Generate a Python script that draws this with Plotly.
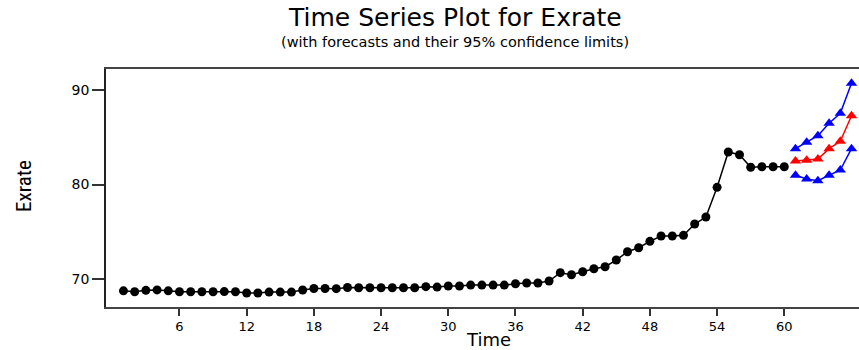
import plotly.graph_objects as go

# Observed series (Time 1..60)
time_obs = list(range(1, 61))
exrate = [68.75, 68.65, 68.80, 68.85, 68.75, 68.65, 68.65, 68.65, 68.65, 68.67,
          68.65, 68.52, 68.52, 68.62, 68.62, 68.62, 68.84, 69.00, 69.00, 68.98,
          69.10, 69.08, 69.08, 69.08, 69.08, 69.08, 69.08, 69.19, 69.15, 69.26,
          69.26, 69.36, 69.36, 69.36, 69.36, 69.50, 69.58, 69.58, 69.79, 70.67,
          70.45, 70.77, 71.09, 71.30, 72.01, 72.89, 73.31, 73.99, 74.55, 74.55,
          74.62, 75.82, 76.56, 79.70, 83.44, 83.15, 81.82, 81.88, 81.88, 81.88]

# Forecasts (Time 61..66)
time_fc = [61, 62, 63, 64, 65, 66]
forecast = [82.49, 82.56, 82.70, 83.79, 84.57, 87.28]
upper95 = [83.79, 84.47, 85.16, 86.48, 87.53, 90.71]
lower95 = [80.97, 80.58, 80.40, 80.97, 81.53, 83.79]

x_ticks = [6, 12, 18, 24, 30, 36, 42, 48, 54, 60]
y_ticks = [70, 80, 90]

W, H = 859, 350
L, R, T, B = 106, 0, 69, 43
PW, PH = W - L - R, H - T - B

def px_x(px):
    return (px - L) / PW

def px_y(py):
    return (H - B - py) / PH

FONT = "DejaVu Sans, Arial, sans-serif"

fig = go.Figure()
fig.add_trace(go.Scatter(x=time_obs, y=exrate, mode="lines+markers",
                         line=dict(color="black", width=1.5),
                         marker=dict(symbol="circle", size=9, color="black"),
                         name="Exrate"))
fig.add_trace(go.Scatter(x=time_fc, y=upper95, mode="lines+markers",
                         line=dict(color="#0000FF", width=1.5),
                         marker=dict(symbol="triangle-up", size=10, color="#0000FF"),
                         name="Upper 95%"))
fig.add_trace(go.Scatter(x=time_fc, y=forecast, mode="lines+markers",
                         line=dict(color="#FF0000", width=1.5),
                         marker=dict(symbol="triangle-up", size=10, color="#FF0000"),
                         name="Forecast"))
fig.add_trace(go.Scatter(x=time_fc, y=lower95, mode="lines+markers",
                         line=dict(color="#0000FF", width=1.5),
                         marker=dict(symbol="triangle-up", size=10, color="#0000FF"),
                         name="Lower 95%"))

fig.update_layout(
    width=W, height=H,
    margin=dict(l=L, r=R, t=T, b=B, autoexpand=False),
    paper_bgcolor="white", plot_bgcolor="white",
    showlegend=False,
    font=dict(family=FONT, color="black"),
    annotations=[
        dict(text="Time Series Plot for Exrate", xref="paper", yref="paper",
             x=px_x(455), y=px_y(17), xanchor="center", yanchor="middle", showarrow=False,
             font=dict(size=25, family=FONT, color="black")),
        dict(text="(with forecasts and their 95% confidence limits)", xref="paper", yref="paper",
             x=px_x(455), y=px_y(42), xanchor="center", yanchor="middle", showarrow=False,
             font=dict(size=14.5, family=FONT, color="black")),
        dict(text="Time", xref="paper", yref="paper",
             x=px_x(488), y=px_y(339.5), xanchor="center", yanchor="middle", showarrow=False,
             font=dict(size=18, family=FONT, color="black")),
        dict(text="Exrate", xref="paper", yref="paper", textangle=-90,
             x=px_x(24), y=px_y(186), xanchor="center", yanchor="middle", showarrow=False,
             font=dict(size=21, family="Liberation Sans Narrow, Arial Narrow, Roboto Condensed, Liberation Sans, sans-serif",
                       color="black")),
    ],
    xaxis=dict(range=[-0.56, 66.67], tickvals=x_ticks, ticktext=[str(v) for v in x_ticks],
               showgrid=False, zeroline=False, showline=True, linecolor="#444", linewidth=1.5,
               mirror=True, ticks="outside", ticklen=7, tickwidth=1.5, tickcolor="#333",
               tickfont=dict(size=13), automargin=False),
    yaxis=dict(range=[67.04, 92.22], tickvals=y_ticks, ticktext=[str(v) for v in y_ticks],
               showgrid=False, zeroline=False, showline=True, linecolor="#222", linewidth=1.5,
               mirror=False, ticks="outside", ticklen=12, tickwidth=1.5, tickcolor="#333",
               tickfont=dict(size=14), automargin=False),
)

fig.write_html("out.html", config={"displayModeBar": False},
               post_script="document.body.style.margin='0';document.body.style.padding='0';")
